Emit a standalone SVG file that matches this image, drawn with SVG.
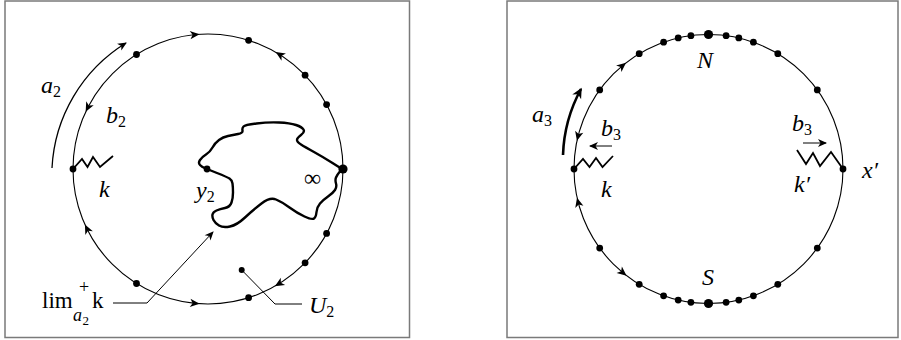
<svg xmlns="http://www.w3.org/2000/svg" xmlns:xlink="http://www.w3.org/1999/xlink" width="901" height="340" viewBox="0 0 901 340">
<style>
.frame{fill:none;stroke:#7a7a7a;stroke-width:1.5}
.circ{fill:none;stroke:#000;stroke-width:1.1}
.dot{fill:#000}
.zig{fill:none;stroke:#000;stroke-width:1.8;stroke-linejoin:miter}
.blob{fill:none;stroke:#000;stroke-width:2.4;stroke-linejoin:round;stroke-linecap:round}
.ln{fill:none;stroke:#000;stroke-width:1}
text{font-family:'Liberation Serif','Times New Roman',serif;fill:#000}
.lab{font-size:24px;font-style:italic}
.rm{font-size:23px;font-style:normal}
.sub{font-size:16px;font-style:normal}
</style>
<defs>
<path id="ah" d="M4.5,0 L-5,-4.2 L-2.5,0 L-5,4.2 Z" fill="#000"/>
<marker id="me" viewBox="-10 -6 12 12" refX="0" refY="0" markerWidth="12" markerHeight="12" markerUnits="userSpaceOnUse" orient="auto">
<path d="M1,0 L-8,-4 L-5.5,0 L-8,4 Z" fill="#000"/>
</marker>
<marker id="mb" viewBox="-12 -7 14 14" refX="0" refY="0" markerWidth="14" markerHeight="14" markerUnits="userSpaceOnUse" orient="auto">
<path d="M1.5,0 L-9,-5 L-6,0 L-9,5 Z" fill="#000"/>
</marker>
</defs>

<rect class="frame" x="5" y="1" width="404.5" height="336.5"/>
<rect class="frame" x="507" y="1" width="391" height="336.5"/>

<!-- LEFT PANEL -->
<g id="left-circle">
<circle class="circ" cx="208" cy="169" r="135"/>
<circle class="dot" cx="136.5" cy="54.5" r="3.4"/>
<circle class="dot" cx="248.6" cy="40.3" r="3.4"/>
<circle class="dot" cx="305.1" cy="75.2" r="3.4"/>
<circle class="dot" cx="326.6" cy="104.6" r="3.4"/>
<circle class="dot" cx="343" cy="169" r="4.6"/>
<circle class="dot" cx="326.6" cy="233.4" r="3.4"/>
<circle class="dot" cx="305.1" cy="262.8" r="3.4"/>
<circle class="dot" cx="248.6" cy="297.7" r="3.4"/>
<circle class="dot" cx="136.5" cy="283.5" r="3.4"/>
<circle class="dot" cx="73" cy="169" r="3.4"/>
<use xlink:href="#ah" transform="translate(195.1,34.6) rotate(-5.5)"/>
<use xlink:href="#ah" transform="translate(279.5,54.5) rotate(-148)"/>
<use xlink:href="#ah" transform="translate(87.7,107.7) rotate(117)"/>
<use xlink:href="#ah" transform="translate(86.9,228.6) rotate(243.8)"/>
<use xlink:href="#ah" transform="translate(195.1,303.4) rotate(5.5)"/>
<use xlink:href="#ah" transform="translate(278.7,284) rotate(148.4)"/>
</g>

<g id="left-k">
<polyline class="zig" points="73,169 82,159 87.5,167 93,157 100,167 113,156"/>
<text class="lab" x="99" y="197">k</text>
</g>

<g id="left-region">
<path class="blob" d="M342,169 L332.5,163 Q323,157 314,152 Q305,147 301,144.5 Q297,142 297,140 Q297,138 301,135 Q305,132 303.5,129.5 Q302,127 296,125 Q290,123 279,122.5 Q268,122 256.5,123.5 Q245,125 243.5,126.5 Q242,128 242.5,130.5 Q243,133 238,134 Q233,135 228,136 Q223,137 219,140 Q215,143 212.5,147.5 Q210,152 206,154.5 Q202,157 200,160 Q198,163 200,165 Q202,167 204.5,168 Q207,169 217,173 Q227,177 229.5,178.5 Q232,180 232.5,183.5 Q233,187 233,192.5 Q233,198 231.5,202.5 Q230,207 225,208 Q220,209 216.5,210.5 Q213,212 212.5,214.5 Q212,217 213.5,220 Q215,223 219,225.5 Q223,228 230,226.5 Q237,225 245,217.5 Q253,210 261.5,203.5 Q270,197 276,199.5 Q282,202 289.5,207.5 Q297,213 304.5,216.5 Q312,220 314,218.5 Q316,217 316.5,212 Q317,207 320,203.5 Q323,200 328,196.5 Q333,193 335,190 Q337,187 336,183.5 Q335,180 336,177.5 Q337,175 339.5,172 L342,169"/>
<circle class="dot" cx="207" cy="169" r="3.4"/>
<text class="lab" x="196" y="198">y<tspan class="sub" dy="4">2</tspan></text>
<text class="rm" x="304" y="186" style="font-size:24px">∞</text>
</g>

<g id="left-U2">
<circle class="dot" cx="241.7" cy="270" r="3"/>
<text class="lab" x="309" y="313">U<tspan class="sub" dy="4">2</tspan></text>
</g>

<g id="left-a2">
<text class="lab" x="41" y="93">a<tspan class="sub" dy="4">2</tspan></text>
</g>
<g id="left-b2">
<text class="lab" x="106" y="123">b<tspan class="sub" dy="4">2</tspan></text>
</g>

<g id="left-lim">
<text class="rm" x="42" y="308">lim</text>
<text class="rm" x="79" y="293" style="font-size:18px">+</text>
<text class="lab" x="73" y="321" style="font-size:18px">a</text>
<text class="rm" x="82.5" y="325" style="font-size:13px">2</text>
<text class="rm" x="92" y="308">k</text>
</g>

<!-- RIGHT PANEL -->
<g id="right-circle">
<circle class="circ" cx="708.5" cy="169" r="134.5"/>
<circle class="dot" cx="708.5" cy="34.5" r="4.6"/>
<circle class="dot" cx="708.5" cy="303.5" r="4.6"/>
<circle class="dot" cx="690.9" cy="35.7" r="3.4"/>
<circle class="dot" cx="726.1" cy="35.7" r="3.4"/>
<circle class="dot" cx="678.2" cy="37.9" r="3.4"/>
<circle class="dot" cx="738.8" cy="37.9" r="3.4"/>
<circle class="dot" cx="663.6" cy="42.2" r="3.4"/>
<circle class="dot" cx="753.4" cy="42.2" r="3.4"/>
<circle class="dot" cx="639.2" cy="53.7" r="3.4"/>
<circle class="dot" cx="777.8" cy="53.7" r="3.4"/>
<circle class="dot" cx="599.7" cy="89.9" r="3.4"/>
<circle class="dot" cx="817.3" cy="89.9" r="3.4"/>
<circle class="dot" cx="690.9" cy="302.3" r="3.4"/>
<circle class="dot" cx="726.1" cy="302.3" r="3.4"/>
<circle class="dot" cx="678.2" cy="300.1" r="3.4"/>
<circle class="dot" cx="738.8" cy="300.1" r="3.4"/>
<circle class="dot" cx="663.6" cy="295.8" r="3.4"/>
<circle class="dot" cx="753.4" cy="295.8" r="3.4"/>
<circle class="dot" cx="639.2" cy="284.3" r="3.4"/>
<circle class="dot" cx="777.8" cy="284.3" r="3.4"/>
<circle class="dot" cx="599.7" cy="248.1" r="3.4"/>
<circle class="dot" cx="817.3" cy="248.1" r="3.4"/>
<circle class="dot" cx="574" cy="169" r="3.4"/>
<circle class="dot" cx="843" cy="169" r="3.4"/>
<use xlink:href="#ah" transform="translate(622.6,65.5) rotate(-39.7)"/>
<use xlink:href="#ah" transform="translate(578,136.5) rotate(104)"/>
<use xlink:href="#ah" transform="translate(578.1,202) rotate(255.8)"/>
<use xlink:href="#ah" transform="translate(623.1,272.9) rotate(39.4)"/>
<text class="lab" x="697" y="68">N</text>
<text class="lab" x="702" y="285">S</text>
</g>

<g id="right-k">
<polyline class="zig" points="574,169 583,159 589.5,167 596,158 602.5,167 613,156"/>
<text class="lab" x="601" y="197">k</text>
<text class="lab" x="601" y="136">b<tspan class="sub" dy="4">3</tspan></text>
</g>

<g id="right-kprime">
<polyline class="zig" points="843,169 831,152 820,166 813,153 806,164 797,150"/>
<text class="lab" x="794" y="192">k′</text>
<text class="lab" x="862" y="178">x′</text>
<text class="lab" x="792" y="131">b<tspan class="sub" dy="4">3</tspan></text>
</g>

<g id="right-a3">
<text class="lab" x="532" y="122">a<tspan class="sub" dy="4">3</tspan></text>
</g>

<!-- CONNECTORS -->
<g id="connectors">
<path class="ln" style="stroke-width:1.3" d="M52,168 A156,156 0 0 1 126,43" marker-end="url(#me)"/>
<polyline class="ln" points="113,303 147,303 213,232" marker-end="url(#me)"/>
<polyline class="ln" points="241.7,270 275,304 302,304"/>
<path class="ln" style="stroke-width:2.6" d="M563,155 A148,148 0 0 1 581,89" marker-end="url(#mb)"/>
<line class="ln" x1="612" y1="146" x2="590" y2="146" marker-end="url(#me)"/>
<line class="ln" x1="803" y1="143" x2="826" y2="143" marker-end="url(#me)"/>
</g>
</svg>
